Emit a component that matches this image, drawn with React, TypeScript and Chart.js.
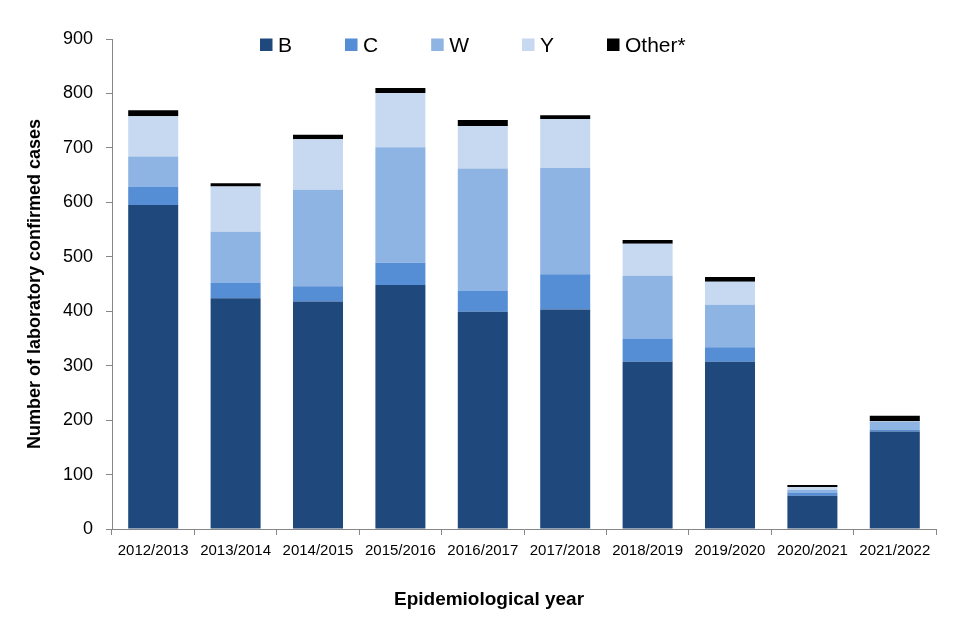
import React, { useEffect, useRef } from 'react';
import { Chart, registerables } from 'chart.js';

Chart.register(...registerables);

const categories = [
  '2012/2013', '2013/2014', '2014/2015', '2015/2016', '2016/2017',
  '2017/2018', '2018/2019', '2019/2020', '2020/2021', '2021/2022',
];
const seriesLabels = ['B', 'C', 'W', 'Y', 'Other*'];
const valuesB = [595, 424, 418, 448, 399, 403, 307, 307, 61, 179];
const valuesC = [33, 28, 28, 41, 38, 65, 43, 27, 6, 3];
const valuesW = [56, 94, 177, 212, 225, 195, 115, 78, 5, 15];
const valuesY = [74, 83, 93, 100, 78, 90, 59, 42, 5, 1];
const valuesOther = [11, 6, 8, 9, 11, 7, 7, 9, 4, 10];
const seriesColors = ['#1F497D', '#558ED5', '#8EB4E3', '#C6D9F1', '#000000'];
const yAxisTitle = 'Number of laboratory confirmed cases';
const xAxisTitle = 'Epidemiological year';
const yMin = 0;
const yMax = 900;
const yStep = 100;

const FONT = '"Liberation Sans", Arial, Helvetica, sans-serif';

const overlayPlugin = {
  id: 'overlay',
  afterDraw(chart: any) {
    const ctx = chart.ctx as CanvasRenderingContext2D;
    ctx.save();
    ctx.font = `21px ${FONT}`;
    ctx.textAlign = 'left';
    ctx.textBaseline = 'alphabetic';
    let x = 260;
    chart.data.datasets.forEach((ds: any) => {
      ctx.fillStyle = ds.backgroundColor;
      ctx.fillRect(x, 38.5, 12.5, 12.5);
      ctx.fillStyle = '#000000';
      ctx.fillText(ds.label, x + 18, 52);
      x += 18 + ctx.measureText(ds.label).width + 53;
    });
    ctx.font = `bold 19px ${FONT}`;
    ctx.textAlign = 'center';
    ctx.fillStyle = '#000000';
    ctx.fillText(xAxisTitle, 489, 605);
    ctx.restore();
  },
};

export default function App() {
  const canvasRef = useRef<HTMLCanvasElement | null>(null);

  useEffect(() => {
    document.body.style.margin = '0';
    const canvas = canvasRef.current;
    if (!canvas) return;
    Chart.defaults.font.family = FONT;
    const allValues = [valuesB, valuesC, valuesW, valuesY, valuesOther];
    const chart = new Chart(canvas, {
      type: 'bar',
      data: {
        labels: categories,
        datasets: allValues.map((vals, i) => ({
          label: seriesLabels[i],
          data: vals,
          backgroundColor: seriesColors[i],
          borderWidth: 0,
          barPercentage: 0.607,
          categoryPercentage: 1,
        })),
      },
      options: {
        animation: false,
        responsive: true,
        maintainAspectRatio: false,
        layout: { padding: { left: 0, right: 24, top: 39, bottom: 0 } },
        plugins: {
          legend: { display: false },
          tooltip: { enabled: false },
        },
        scales: {
          x: {
            stacked: true,
            afterFit: (s: any) => { s.height = 111; },
            grid: {
              display: true,
              drawOnChartArea: false,
              drawTicks: true,
              tickLength: 6,
              color: '#868686',
              offset: true,
            },
            border: { display: true, color: '#868686', width: 1 },
            ticks: {
              color: '#000000',
              font: { size: 15 },
              padding: 7,
              maxRotation: 0,
              autoSkip: false,
            },
          },
          y: {
            stacked: true,
            min: yMin,
            max: yMax,
            afterFit: (s: any) => { s.width = 112; },
            grid: {
              display: true,
              drawOnChartArea: false,
              drawTicks: true,
              tickLength: 6,
              color: '#868686',
            },
            border: { display: true, color: '#868686', width: 1 },
            ticks: {
              stepSize: yStep,
              color: '#000000',
              font: { size: 18 },
              padding: 13,
            },
            title: {
              display: true,
              text: yAxisTitle,
              color: '#000000',
              font: { size: 18, weight: 'bold' },
              padding: { top: 24, bottom: 0 },
            },
          },
        },
      },
      plugins: [overlayPlugin],
    });
    return () => chart.destroy();
  }, []);

  return (
    <div style={{ width: 960, height: 640, position: 'relative' }}>
      <canvas ref={canvasRef} />
    </div>
  );
}
